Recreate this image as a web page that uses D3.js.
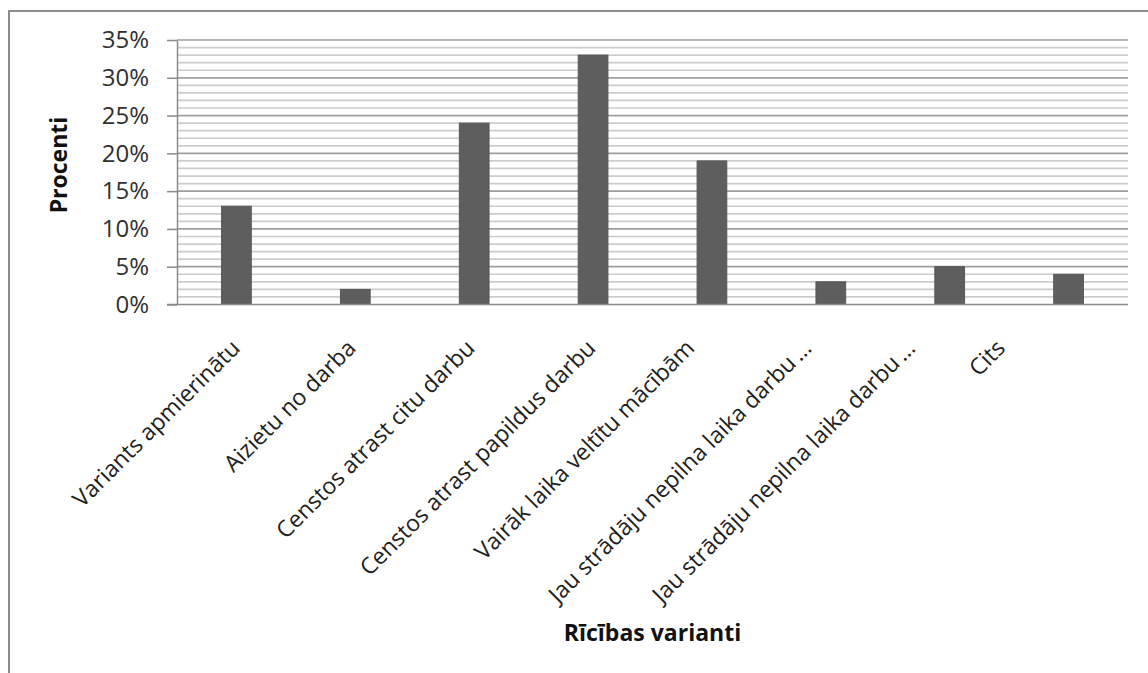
<!DOCTYPE html>
<html>
<head>
<meta charset="utf-8">
<script src="https://cdn.jsdelivr.net/npm/d3@7"></script>
<style>
  html, body { margin: 0; padding: 0; background: #ffffff; }
  svg { display: block; }
  text { font-family: "Open Sans", "DejaVu Sans", sans-serif; }
</style>
</head>
<body>
<svg id="chart" width="1148" height="673"></svg>
<script>
// Survey answers: chosen course of action, share of respondents (%)
const categories = [
  "Variants apmierinātu",
  "Aizietu no darba",
  "Censtos atrast citu darbu",
  "Censtos atrast papildus darbu",
  "Vairāk laika veltītu mācībām",
  "Jau strādāju nepilna laika darbu\u2009…",
  "Jau strādāju nepilna laika darbu\u2009…",
  "Cits"
];
const values = [13, 2, 24, 33, 19, 3, 5, 4];
const yTicks = [0, 5, 10, 15, 20, 25, 30, 35];
const yTitle = "Procenti";
const xTitle = "Rīcības varianti";

// horizontal nudge of each rotated category label (px)
const labelNudge = [5, 2, 2, 4, -16, -18, -33, -62];

const W = 1148, H = 673;
const plot = { left: 177, right: 1128, top: 40, bottom: 304.5 };

const svg = d3.select("#chart");

// chart frame (only its top and left edges fall inside the view)
svg.append("rect")
  .attr("x", 9).attr("y", 11)
  .attr("width", W + 20).attr("height", H + 20)
  .attr("fill", "#ffffff")
  .attr("stroke", "#8c8c8c")
  .attr("stroke-width", 2);

const idx = categories.map((c, i) => i);
const x = d3.scaleBand()
  .domain(idx)
  .range([plot.left, plot.right])
  .paddingInner(0.75)
  .paddingOuter(0.375);

const y = d3.scaleLinear()
  .domain([0, 35])
  .range([plot.bottom, plot.top]);

// minor gridlines every 1 %, major every 5 %
const g = svg.append("g");
g.selectAll("line.minor")
  .data(d3.range(1, 35).filter(v => v % 5 !== 0))
  .join("line")
  .attr("class", "minor")
  .attr("x1", plot.left).attr("x2", plot.right)
  .attr("y1", d => y(d)).attr("y2", d => y(d))
  .attr("stroke", "#cccccc")
  .attr("stroke-width", 1.7);

g.selectAll("line.major")
  .data(yTicks.filter(v => v > 0))
  .join("line")
  .attr("class", "major")
  .attr("x1", plot.left).attr("x2", plot.right)
  .attr("y1", d => y(d)).attr("y2", d => y(d))
  .attr("stroke", "#9e9e9e")
  .attr("stroke-width", 1.7);

// bars
svg.append("g").selectAll("rect")
  .data(values)
  .join("rect")
  .attr("x", (d, i) => x(i))
  .attr("width", x.bandwidth())
  .attr("y", d => y(d))
  .attr("height", d => y(0) - y(d))
  .attr("fill", "#5e5e5e")
  .attr("stroke", "#575757")
  .attr("stroke-width", 1);

// y axis
const yAxis = svg.append("g")
  .attr("transform", `translate(${plot.left},0)`)
  .call(d3.axisLeft(y)
    .tickValues(yTicks)
    .tickFormat(d => d + "%")
    .tickSize(10)
    .tickSizeOuter(0)
    .tickPadding(18));
yAxis.select(".domain").attr("stroke", "#8a8a8a").attr("stroke-width", 1.5);
yAxis.selectAll(".tick line").attr("stroke", "#8a8a8a").attr("stroke-width", 1.5);
yAxis.selectAll(".tick text")
  .attr("font-size", 24)
  .attr("fill", "#303030")
  .style("font-family", "'Open Sans', sans-serif");

// x axis
const xAxis = svg.append("g")
  .attr("transform", `translate(0,${plot.bottom})`)
  .call(d3.axisBottom(x)
    .tickFormat(i => categories[i])
    .tickSize(0)
    .tickSizeOuter(0));
xAxis.select(".domain").remove();
xAxis.append("line")
  .attr("x1", plot.left - 10).attr("x2", plot.right)
  .attr("stroke", "#8a8a8a").attr("stroke-width", 1.5);
xAxis.selectAll(".tick text")
  .attr("y", 0).attr("dy", 0)
  .attr("text-anchor", "end")
  .attr("font-size", 23)
  .attr("fill", "#202020")
  .style("font-family", "'Open Sans', sans-serif")
  .attr("transform", i => `translate(${labelNudge[i]},45) rotate(-45)`);

// axis titles
svg.append("text")
  .attr("transform", `translate(67,165) rotate(-90)`)
  .attr("text-anchor", "middle")
  .attr("font-size", 23)
  .attr("font-weight", "bold")
  .attr("fill", "#111")
  .text(yTitle);

svg.append("text")
  .attr("x", (plot.left + plot.right) / 2)
  .attr("y", 641)
  .attr("text-anchor", "middle")
  .attr("font-size", 23)
  .attr("font-weight", "bold")
  .attr("fill", "#111")
  .text(xTitle);
</script>
</body>
</html>
